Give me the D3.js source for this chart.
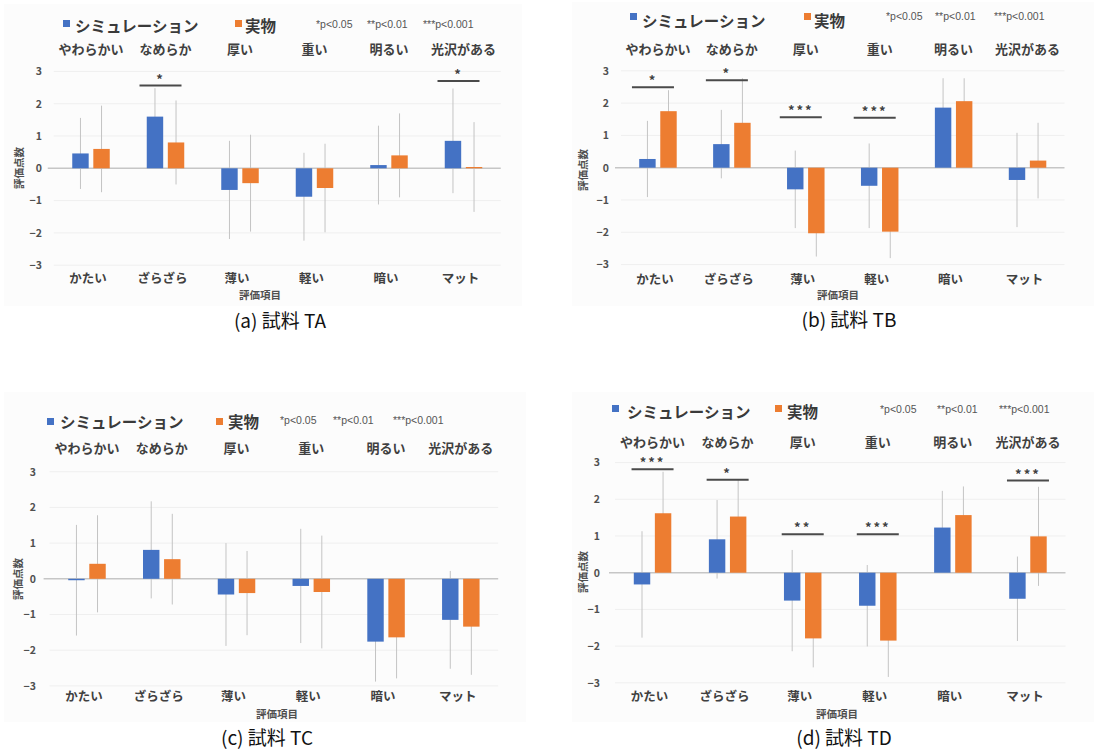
<!DOCTYPE html>
<html>
<head>
<meta charset="utf-8">
<script src="https://cdn.jsdelivr.net/npm/d3@7"></script>
<style>
  html, body { margin: 0; padding: 0; background: #ffffff; }
  svg { display: block; }
  text { font-family: "Noto Sans CJK JP", "Noto Sans", sans-serif; }
</style>
</head>
<body>
<svg id="chart" width="1094" height="755"></svg>
<script>
// Category pairs: bottom (negative pole) and top (positive pole)
const categoriesBottom = ["かたい", "ざらざら", "薄い", "軽い", "暗い", "マット"];
const categoriesTop = ["やわらかい", "なめらか", "厚い", "重い", "明るい", "光沢がある"];
const seriesNames = ["シミュレーション", "実物"];
const sigLegend = ["*p<0.05", "**p<0.01", "***p<0.001"];
const yTicks = [-3, -2, -1, 0, 1, 2, 3];

// Sample TA
const simA = [0.46, 1.60, -0.67, -0.88, 0.10, 0.85];
const simErrA = [1.10, 0.88, 1.52, 1.36, 1.22, 1.62];
const realA = [0.60, 0.80, -0.46, -0.61, 0.40, 0.04];
const realErrA = [1.34, 1.30, 1.50, 1.37, 1.30, 1.39];
const sigA = [{ i: 1, mark: "*", level: 2.56 }, { i: 5, mark: "*", level: 2.70 }];

// Sample TB
const simB = [0.27, 0.73, -0.67, -0.56, 1.86, -0.38];
const simErrB = [1.18, 1.06, 1.20, 1.31, 0.91, 1.46];
const realB = [1.75, 1.39, -2.03, -1.98, 2.06, 0.22];
const realErrB = [0.65, 1.38, 0.72, 0.82, 0.71, 1.17];
const sigB = [
  { i: 0, mark: "*", level: 2.49 }, { i: 1, mark: "*", level: 2.71 },
  { i: 2, mark: "***", level: 1.56 }, { i: 3, mark: "***", level: 1.55 }
];

// Sample TC
const simC = [-0.04, 0.81, -0.44, -0.20, -1.76, -1.15];
const simErrC = [1.55, 1.36, 1.44, 1.60, 1.12, 1.37];
const realC = [0.42, 0.55, -0.40, -0.37, -1.64, -1.34];
const realErrC = [1.36, 1.27, 1.18, 1.58, 1.15, 1.35];
const sigC = [];

// Sample TD
const simD = [-0.32, 0.91, -0.76, -0.90, 1.23, -0.71];
const simErrD = [1.45, 1.07, 1.38, 1.11, 1.00, 1.15];
const realD = [1.62, 1.53, -1.79, -1.85, 1.57, 0.99];
const realErrD = [1.13, 1.00, 0.79, 0.99, 0.78, 1.35];
const sigD = [
  { i: 0, mark: "***", level: 2.82 }, { i: 1, mark: "*", level: 2.53 },
  { i: 2, mark: "**", level: 1.05 }, { i: 3, mark: "***", level: 1.05 },
  { i: 5, mark: "***", level: 2.51 }
];

const colors = ["#4472C4", "#ED7D31"];

// Panel layouts
const panels = [
  {
    caption: "(a) 試料 TA", sim: simA, simErr: simErrA, real: realA, realErr: realErrA, sig: sigA,
    bg: [4, 4, 518, 302], xr: [53.75, 500.75], yr: [265.2, 71.4],
    tickRight: 42, yTitle: [18, 168], xTitle: [260, 299], cap: [280, 328],
    topY: 54, botY: 283, sigShift: -5,
    leg: { sq1: 63, sq2: 235, sqY: 20, t1: 75, t2: 245, tY: 32, sigs: [316, 367, 423], sigY: 28 }
  },
  {
    caption: "(b) 試料 TB", sim: simB, simErr: simErrB, real: realB, realErr: realErrB, sig: sigB,
    bg: [572, 2, 522, 304], xr: [621, 1064.5], yr: [264.6, 70.8],
    tickRight: 609, yTitle: [582, 170], xTitle: [838, 299], cap: [849, 327],
    topY: 54, botY: 284, sigShift: -5,
    leg: { sq1: 630, sq2: 804, sqY: 13, t1: 642, t2: 814, tY: 27, sigs: [886, 935, 994], sigY: 20 }
  },
  {
    caption: "(c) 試料 TC", sim: simC, simErr: simErrC, real: realC, realErr: realErrC, sig: sigC,
    bg: [4, 392, 522, 330], xr: [49.6, 498.2], yr: [685.9, 471.7],
    tickRight: 36, yTitle: [17, 579], xTitle: [277, 718], cap: [267, 745],
    topY: 453, botY: 701, sigShift: 0,
    leg: { sq1: 47, sq2: 216, sqY: 418, t1: 60, t2: 228, tY: 428, sigs: [280, 333, 393], sigY: 424 }
  },
  {
    caption: "(d) 試料 TD", sim: simD, simErr: simErrD, real: realD, realErr: realErrD, sig: sigD,
    bg: [572, 392, 522, 330], xr: [615, 1065.5], yr: [682.8, 462.6],
    tickRight: 600, yTitle: [582, 572], xTitle: [837, 718], cap: [844, 745],
    topY: 447, botY: 701, sigShift: 0,
    leg: { sq1: 612, sq2: 775, sqY: 405, t1: 627, t2: 787, tY: 418, sigs: [880, 937, 999], sigY: 413 }
  }
];

const svg = d3.select("#chart");

panels.forEach(p => {
  const g = svg.append("g");

  g.append("rect")
    .attr("x", p.bg[0]).attr("y", p.bg[1]).attr("width", p.bg[2]).attr("height", p.bg[3])
    .attr("fill", "#fcfcfc");

  const x = d3.scaleBand().domain(d3.range(categoriesBottom.length)).range(p.xr).padding(0);
  const sub = d3.scaleBand().domain([0, 1]).range([-18.75, 18.75]).paddingInner(0.22);
  const y = d3.scaleLinear().domain([-3, 3]).range(p.yr);
  const cx = i => x(i) + x.bandwidth() / 2;

  // Gridlines
  g.append("g").selectAll("line").data(yTicks.filter(t => t !== 0)).join("line")
    .attr("x1", p.xr[0]).attr("x2", p.xr[1])
    .attr("y1", d => y(d)).attr("y2", d => y(d))
    .attr("stroke", "#efefef").attr("stroke-width", 1);

  // Y axis tick labels
  const yAxis = d3.axisLeft(y).tickValues(yTicks).tickFormat(d3.format("d")).tickSize(0).tickPadding(0);
  const ya = g.append("g").attr("transform", `translate(${p.tickRight},0)`).call(yAxis);
  ya.select(".domain").remove();
  ya.selectAll("text")
    .attr("fill", "#505050").attr("font-size", 10.5).attr("font-weight", "bold")
    .style("font-family", "'Noto Sans CJK JP', sans-serif");

  // Zero line
  g.append("line")
    .attr("x1", p.xr[0] - 6).attr("x2", p.xr[1])
    .attr("y1", y(0)).attr("y2", y(0))
    .attr("stroke", "#c6c6c6").attr("stroke-width", 1.6);

  // Error bars (behind) then bars
  const series = [
    { vals: p.sim, errs: p.simErr },
    { vals: p.real, errs: p.realErr }
  ];
  const eg = g.append("g");
  const bg = g.append("g");
  series.forEach((s, k) => {
    const bars = s.vals.map((v, i) => ({ i, v, e: s.errs[i] }));
    eg.append("g").selectAll("line").data(bars).join("line")
      .attr("x1", d => cx(d.i) + sub(k) + sub.bandwidth() / 2)
      .attr("x2", d => cx(d.i) + sub(k) + sub.bandwidth() / 2)
      .attr("y1", d => y(d.v + d.e))
      .attr("y2", d => y(d.v - d.e))
      .attr("stroke", "#c4c4c4").attr("stroke-width", 1);
    bg.append("g").selectAll("rect").data(bars).join("rect")
      .attr("x", d => cx(d.i) + sub(k))
      .attr("width", sub.bandwidth())
      .attr("y", d => y(Math.max(0, d.v)))
      .attr("height", d => Math.abs(y(d.v) - y(0)))
      .attr("fill", colors[k]);
  });

  // Category labels, top and bottom
  g.append("g").selectAll("text").data(categoriesTop).join("text")
    .attr("x", (d, i) => cx(i)).attr("y", p.topY)
    .attr("text-anchor", "middle").attr("font-size", 13).attr("font-weight", "bold")
    .attr("fill", "#404040").text(d => d);
  g.append("g").selectAll("text").data(categoriesBottom).join("text")
    .attr("x", (d, i) => cx(i) - 3).attr("y", p.botY)
    .attr("text-anchor", "middle").attr("font-size", 12.5).attr("font-weight", "bold")
    .attr("fill", "#404040").text(d => d);

  // Axis titles
  g.append("text")
    .attr("transform", `translate(${p.yTitle[0]},${p.yTitle[1]}) rotate(-90)`)
    .attr("text-anchor", "middle").attr("dominant-baseline", "central")
    .attr("font-size", 10.5).attr("font-weight", "bold").attr("fill", "#505050")
    .text("評価点数");
  g.append("text")
    .attr("x", p.xTitle[0]).attr("y", p.xTitle[1])
    .attr("text-anchor", "middle").attr("font-size", 10.5).attr("font-weight", "bold")
    .attr("fill", "#505050").text("評価項目");

  // Significance brackets
  const sg = g.append("g");
  p.sig.forEach(s => {
    const c = cx(s.i) + p.sigShift;
    sg.append("line")
      .attr("x1", c - 21).attr("x2", c + 21)
      .attr("y1", y(s.level)).attr("y2", y(s.level))
      .attr("stroke", "#4a4a4a").attr("stroke-width", 2);
    sg.append("text")
      .attr("x", c).attr("y", y(s.level) - 2)
      .attr("text-anchor", "middle").attr("font-size", 13).attr("font-weight", "bold")
      .attr("letter-spacing", 2).attr("fill", "#404040").text(s.mark);
  });

  // Legend
  const L = p.leg;
  [[L.sq1, L.t1], [L.sq2, L.t2]].forEach((pos, k) => {
    g.append("rect").attr("x", pos[0]).attr("y", L.sqY).attr("width", 7).attr("height", 7)
      .attr("fill", colors[k]);
    g.append("text").attr("x", pos[1]).attr("y", L.tY)
      .attr("font-size", 15.5).attr("font-weight", "bold").attr("fill", "#3a3a3a")
      .text(seriesNames[k]);
  });
  sigLegend.forEach((t, k) => {
    g.append("text").attr("x", L.sigs[k]).attr("y", L.sigY)
      .attr("font-size", 10.5).attr("fill", "#555")
      .style("font-family", "'Liberation Sans', 'Noto Sans', sans-serif")
      .text(t);
  });

  // Caption
  g.append("text").attr("x", p.cap[0]).attr("y", p.cap[1])
    .attr("text-anchor", "middle").attr("font-size", 19).attr("fill", "#111")
    .text(p.caption);
});
</script>
</body>
</html>
